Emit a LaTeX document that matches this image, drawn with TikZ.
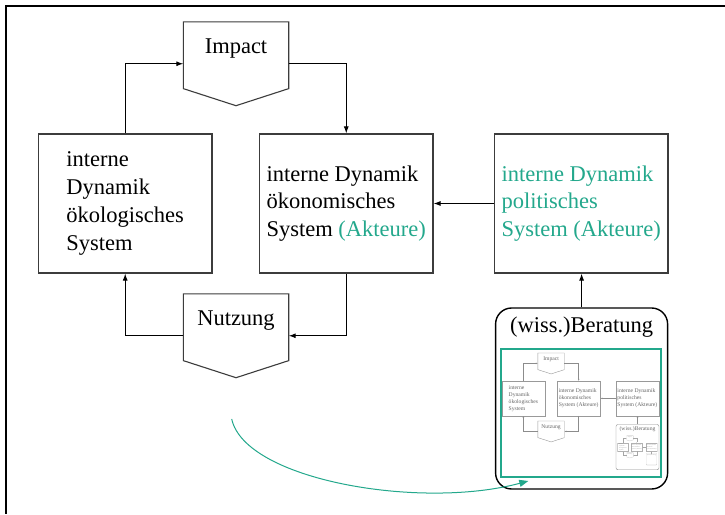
\documentclass[tikz,border=0pt]{standalone}
\usepackage{fontspec}
\setmainfont{Liberation Serif}
\usetikzlibrary{arrows.meta,calc}
\definecolor{tealc}{RGB}{35,168,140}
\definecolor{bc}{RGB}{60,60,60}
\colorlet{lc}{black}
\colorlet{tc}{black}
\newcommand\bigtext{\fontsize{22.5}{27.7}\selectfont}
\tikzset{
  sysbox/.style={draw=bc, line width=1.1pt, minimum width=173.5pt, minimum height=139pt,
    inner sep=0pt, align=left, text=tc, font=\bigtext},
  pentbody/.style={minimum width=105pt, minimum height=83.5pt, inner sep=0pt},
  pentline/.style={draw=bc, line width=1.1pt},
  lbl/.style={font=\bigtext, text=tc, inner sep=0pt},
  conn/.style={draw=lc, line width=1pt, -{Latex[length=7pt,width=5pt]}},
  berbox/.style={draw=lc, line width=1.4pt, rounded corners=16pt, minimum width=172pt,
    minimum height=181pt, inner sep=0pt},
  shotframe/.style={draw=tealc, line width=1.8pt, minimum width=160.3pt, minimum height=127.4pt, inner sep=0pt},
  curvearrow/.style={draw=tealc, line width=1pt, -{Triangle[length=9pt,width=7pt]}},
  frameline/.style={draw=black, line width=2.2pt},
}
\newcommand\basediagram{%
  \node[pentbody] (imp) at (236,63.75) {};
  \draw[pentline] (imp.north west) -- (imp.north east)
     -- ($(imp.south east)!0.2036!(imp.north east)$) -- (imp.south)
     -- ($(imp.south west)!0.2036!(imp.north west)$) -- cycle;
  \node[lbl] (impt) at ($(imp.north)!0.32!(imp.south)$) {Impact};
  \node[pentbody] (nut) at (236,335.75) {};
  \draw[pentline] (nut.north west) -- (nut.north east)
     -- ($(nut.south east)!0.2036!(nut.north east)$) -- (nut.south)
     -- ($(nut.south west)!0.2036!(nut.north west)$) -- cycle;
  \node[lbl] (nutt) at ($(nut.north)!0.32!(nut.south)$) {Nutzung};
  \node[sysbox] (eco) at (125.2,203.5) {interne\\Dynamik\\ökologisches\\System};
  \node[sysbox] (econ) at (346.25,203.5) {interne Dynamik\\ökonomisches\\System \textcolor{tealc}{(Akteure)}};
  \node[sysbox, text=tealc] (pol) at (581.2,203.5) {interne Dynamik\\politisches\\System (Akteure)};
  \node[berbox] (ber) at (581.6,398.5) {};
  \node[lbl] (bert) at (581.6,327) {(wiss.)Beratung};
  \draw[conn] (eco.north) |- (imp.west);
  \draw[conn] (imp.east) -| (econ.north);
  \draw[conn] (econ.south) |- (nut.east);
  \draw[conn] (nut.west) -| (eco.south);
  \draw[conn] (pol.west) -- (econ.east);
  \draw[conn] (ber.north) -- (ber.north |- pol.south);
}
\begin{document}
\begin{tikzpicture}[x=1pt,y=-1pt]
\useasboundingbox (0,0) rectangle (725,514);
\fill[white] (0,0) rectangle (725,514);
\draw[frameline] (725,6) -- (6.3,6) -- (6.3,514);
\basediagram
\node[shotframe] (shot) at (580.85,413) {};
\begin{scope}
  \clip (shot.north west) rectangle (shot.south east);
  \begin{scope}[shift={(492.1,347.5)}, scale=0.25, transform shape, name prefix=m-]
    \colorlet{lc}{black!45}\colorlet{bc}{black!40}\colorlet{tc}{black!60}\colorlet{tealc}{black!60}
    \tikzset{conn/.style={draw=lc, line width=0.35pt, -{Latex[length=2pt,width=1.6pt]}},
      sysbox/.append style={line width=0.4pt},
      pentline/.append style={line width=0.4pt},
      berbox/.append style={line width=0.4pt, rounded corners=2pt}}
    \basediagram
    \begin{scope}
      \clip (500.7,349.3) rectangle (661,476.7);
      \begin{scope}[shift={(492.1,347.5)}, scale=0.25, transform shape, name prefix=mm-]
        \colorlet{lc}{black!35}\colorlet{bc}{black!30}\colorlet{tc}{black!45}\colorlet{tealc}{black!45}
        \tikzset{conn/.style={draw=lc, line width=0.15pt, -{Latex[length=0.6pt,width=0.5pt]}},
          sysbox/.append style={line width=0.15pt},
          pentline/.append style={line width=0.15pt},
          berbox/.append style={line width=0.15pt, rounded corners=0.5pt}}
        \basediagram
      \end{scope}
    \end{scope}
  \end{scope}
\end{scope}
\coordinate (cs) at (231.7,419);
\coordinate (ce) at (528.3,481);
\draw[curvearrow] (cs) .. controls (245,480) and (420,510) .. (ce);
\end{tikzpicture}
\end{document}
